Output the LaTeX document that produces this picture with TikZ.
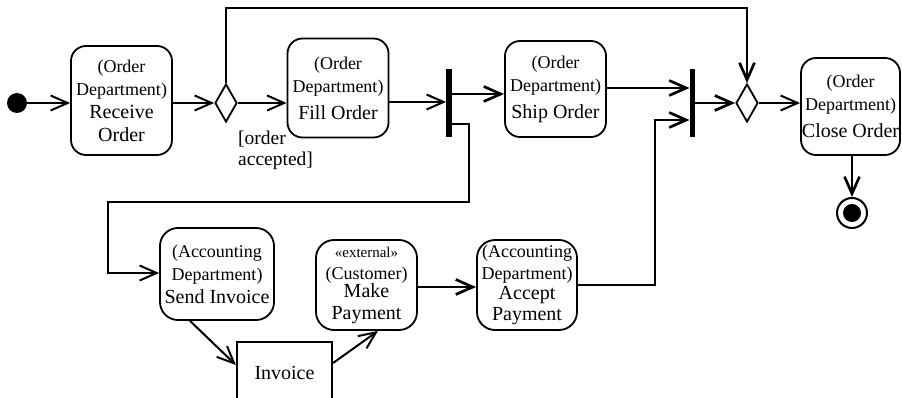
\documentclass[tikz,border=0pt]{standalone}
\usepackage{fontspec}
\setmainfont{Liberation Serif}
\usetikzlibrary{arrows.meta,shapes.geometric}
\newcommand\depf{\fontsize{18}{21}\selectfont}
\newcommand\mainf{\fontsize{20}{23}\selectfont}
\newcommand\extf{\fontsize{15}{16}\selectfont}
\begin{document}
\begin{tikzpicture}[x=1pt,y=-1pt,
  act/.style={draw,line width=1.8pt,rounded corners=15pt,align=center,inner sep=0pt,font=\mainf},
  bar/.style={fill=black,draw=none,minimum width=5.5pt,minimum height=68pt,inner sep=0pt},
  dec/.style={draw,diamond,line width=1.8pt,minimum width=22pt,minimum height=38pt,inner sep=0pt},
  flow/.style={line width=2pt,-{Straight Barb[length=17pt,width=15pt]}},
  flowthick/.style={line width=2.7pt,-{Straight Barb[length=17pt,width=15pt]}}
]
\useasboundingbox (0,0) rectangle (902,398);
\clip (0,0) rectangle (902,398);
% nodes
\node[circle,fill,minimum size=20pt,inner sep=0pt] (init) at (17,103) {};
\node[act,minimum width=101pt,minimum height=109pt] (recv) at (121.5,100.5)
  {{\depf (Order}\\{\depf Department)}\\Receive\\Order};
\node[dec] (d1) at (226,103) {};
\node[anchor=north west,align=left,font=\fontsize{19.5}{20.5}\selectfont,inner sep=0pt] (guard) at (238,131) {[order\\accepted]};
\node[act,minimum width=101pt,minimum height=99pt] (fill) at (338,88)
  {{\depf (Order}\\{\depf Department)}\\[4pt]Fill Order};
\node[bar] (fork) at (449,103) {};
\node[act,minimum width=101pt,minimum height=96pt] (ship) at (555.5,89)
  {{\depf (Order}\\{\depf Department)}\\[4pt]Ship Order};
\node[bar] (join) at (692.5,103) {};
\node[dec] (d2) at (747,103) {};
\node[act,minimum width=99pt,minimum height=97pt] (close) at (850.5,106.5)
  {{\depf (Order}\\{\depf Department)}\\[4pt]Close Order};
\node[circle,draw,line width=2pt,minimum size=30pt,inner sep=0pt] (final) at (852,213) {};
\node[circle,fill,minimum size=18pt,inner sep=0pt] (finaldot) at (final) {};
\node[act,rounded corners=18pt,minimum width=114pt,minimum height=92pt] (send) at (217,274)
  {{\depf (Accounting}\\{\depf Department)}\\Send Invoice};
\node[act,rounded corners=18pt,minimum width=101pt,minimum height=90pt] (mp) at (366.5,285)
  {{\extf «external»}\\[-1pt]{\depf (Customer)}\\[-5pt]Make\\[-1pt]Payment};
\node[act,rounded corners=18pt,minimum width=100pt,minimum height=90pt] (ap) at (527,285)
  {{\depf (Accounting}\\[-1pt]{\depf Department)}\\[-3pt]Accept\\[-2pt]Payment};
\node[draw,line width=2.2pt,minimum width=95pt,minimum height=62pt,inner sep=0pt,font=\mainf] (inv) at (284.5,373) {Invoice};
% connectors
\draw[flow] (init) -- (recv.west |- init);
\draw[flow] (recv.east |- d1) -- (d1.west);
\draw[flow] (d1.east) -- (fill.west |- d1);
\draw[flow] (fill.east |- 0,102) -- (fork.west |- 0,102);
\draw[flowthick] (fork.east |- 0,94) -- (ship.west |- 0,94);
\draw[flow] (fork.east |- 0,124) -- (469,124) -- (469,202) -- (108,202) -- (108,273) -- (send.west |- 0,273);
\draw[flowthick] (ship.east |- 0,88) -- (join.west |- 0,88);
\draw[flowthick] (ap.east |- 0,285) -- (655,285) -- (655,120) -- (join.west |- 0,120);
\draw[flowthick] (join.east |- d2) -- (d2.west);
\draw[flow] (d2.east) -- (close.west |- d2);
\draw[flowthick] (d1.north) -- (226,8) -- (747,8) -- (d2.north);
\draw[flowthick] (final |- close.south) -- (final.north);
\draw[flow] (190,0 |- send.south) -- (inv.west |- 0,365);
\draw[flow] (inv.east |- 0,363) -- (378,0 |- mp.south);
\draw[flowthick] (mp.east |- 0,287) -- (ap.west |- 0,287);
\end{tikzpicture}
\end{document}
